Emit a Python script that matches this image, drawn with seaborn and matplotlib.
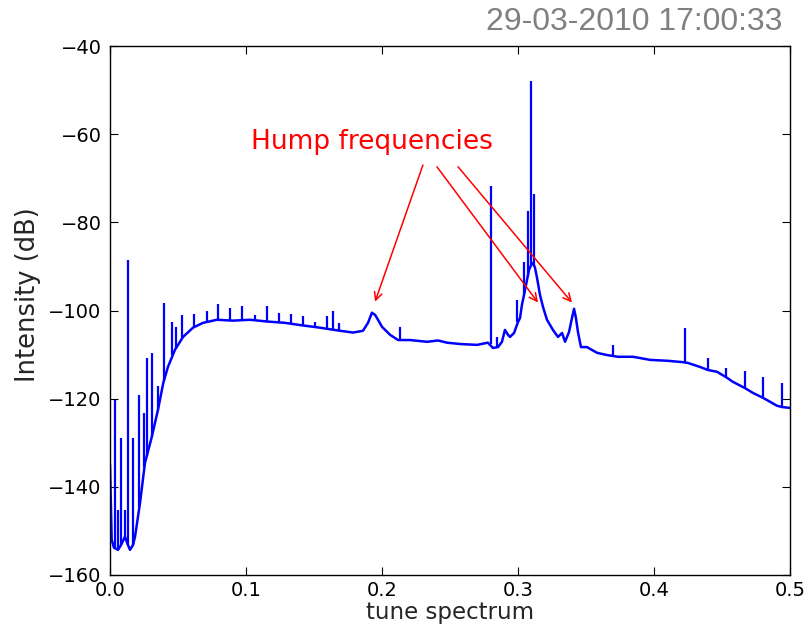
import matplotlib
matplotlib.use("Agg")
import matplotlib.pyplot as plt
import seaborn as sns
import pandas as pd

# ---- data ----
tune = [0.0, 0.00125, 0.0029, 0.0059, 0.0081, 0.011, 0.0132, 0.0147, 0.0169, 0.0184,
        0.0199, 0.0221, 0.0257, 0.0307, 0.0353, 0.0392, 0.0426, 0.0478, 0.0537, 0.061,
        0.0684, 0.0787, 0.0904, 0.103, 0.1154, 0.1287, 0.1397, 0.1544, 0.1691, 0.1787,
        0.186, 0.1897, 0.1926, 0.1949, 0.1963, 0.2, 0.2059, 0.2118, 0.2206, 0.2331,
        0.2412, 0.2478, 0.2574, 0.2699, 0.2779, 0.2816, 0.2853, 0.2882, 0.2904, 0.2926,
        0.2941, 0.2971, 0.3, 0.3015, 0.3029, 0.3044, 0.3066, 0.3081, 0.3096, 0.311,
        0.3125, 0.314, 0.3162, 0.3184, 0.3213, 0.3257, 0.3294, 0.3324, 0.3346, 0.3375,
        0.3397, 0.3412, 0.3426, 0.3441, 0.3463, 0.3507, 0.3581, 0.3654, 0.3735, 0.3846,
        0.3971, 0.4096, 0.4206, 0.425, 0.4338, 0.4397, 0.4463, 0.4529, 0.4581, 0.4669,
        0.4728, 0.4801, 0.4853, 0.4904, 0.4941, 0.5]
intensity = [-135.0, -152.0, -153.8, -154.3, -153.2, -151.3, -153.2, -154.3, -153.2, -151.3,
             -148.2, -143.6, -134.6, -128.7, -122.5, -116.4, -112.8, -108.9, -106.0, -103.9,
             -102.8, -102.1, -102.3, -102.1, -102.5, -102.8, -103.3, -103.9, -104.6, -105.0,
             -104.6, -102.8, -100.5, -101.0, -101.7, -103.7, -105.5, -106.7, -106.7, -107.1,
             -106.8, -107.3, -107.6, -107.8, -107.3, -108.5, -108.3, -107.1, -104.4, -105.5,
             -106.0, -105.1, -102.6, -101.7, -98.7, -96.5, -93.1, -90.8, -89.7, -89.2,
             -90.3, -92.6, -96.5, -99.2, -102.1, -104.4, -106.0, -105.1, -107.1, -104.9,
             -101.7, -99.6, -101.7, -104.9, -108.3, -108.3, -109.6, -110.1, -110.5, -110.5,
             -111.2, -111.4, -111.7, -111.9, -112.8, -113.5, -113.9, -115.1, -116.2, -117.6,
             -118.7, -119.8, -120.7, -121.6, -121.9, -122.1]

spike_tune = [0.0037, 0.0059, 0.0081, 0.011, 0.013, 0.0171, 0.0215, 0.0252, 0.027, 0.0307,
              0.0351, 0.0397, 0.0458, 0.0485, 0.0532, 0.0618, 0.0711, 0.0794, 0.0882, 0.0974,
              0.1066, 0.1152, 0.1243, 0.1329, 0.1417, 0.1507, 0.1596, 0.164, 0.1684, 0.2132,
              0.2799, 0.2846, 0.299, 0.3044, 0.3074, 0.3098, 0.3121, 0.3699, 0.4228, 0.4397,
              0.4529, 0.4669, 0.4801, 0.4941]
spike_base = [-153.8, -154.3, -153.2, -151.3, -153.2, -153.2, -144.5, -135.5, -133.0, -128.7,
              -122.7, -116.0, -110.0, -108.7, -106.2, -103.8, -102.7, -102.1, -102.2, -102.2,
              -102.3, -102.5, -102.7, -103.0, -103.3, -103.8, -104.2, -104.4, -104.6, -106.7,
              -107.5, -108.4, -102.5, -96.5, -92.5, -89.7, -90.0, -110.3, -111.8, -113.5,
              -115.1, -117.6, -119.8, -121.9]
spike_top = [-120.3, -145.2, -128.9, -145.2, -88.5, -128.9, -119.1, -123.2, -110.7, -109.6,
             -117.1, -98.3, -102.6, -103.7, -101.0, -100.8, -100.2, -98.5, -99.4, -99.0,
             -101.0, -99.0, -100.5, -100.8, -101.3, -102.6, -101.3, -100.0, -102.8, -103.7,
             -71.7, -106.0, -97.6, -89.0, -77.4, -47.9, -73.6, -107.8, -104.0, -110.8,
             -113.0, -113.7, -115.1, -116.4]

annot_text = "Hump frequencies"
annot_pos = (0.1926, -61.8)
arrow_starts = [(0.2301, -67.0), (0.2404, -67.4), (0.2559, -67.4)]
arrow_ends = [(0.1949, -98.0), (0.3147, -98.2), (0.3397, -98.2)]

stamp = "29-03-2010 17:00:33"
xticks = [0.0, 0.1, 0.2, 0.3, 0.4, 0.5]
yticks = [-160, -140, -120, -100, -80, -60, -40]

# ---- style ----
sns.set_style("ticks")
plt.rcParams['font.family'] = ['DejaVu Sans']
plt.rcParams['axes.unicode_minus'] = True

fig = plt.figure(figsize=(8.08, 6.26), dpi=100)
ax = fig.add_axes([110 / 808, 1 - 575 / 626, 680 / 808, 529 / 626])

df = pd.DataFrame({"tune": tune, "intensity": intensity})
sns.lineplot(data=df, x="tune", y="intensity", color="#0000ff", linewidth=1.8,
             ax=ax, estimator=None, sort=True)
ax.vlines(spike_tune, spike_base, spike_top, color="#0000ff", linewidth=1.6)

ax.set_xlim(0, 0.5)
ax.set_ylim(-160, -40)
ax.set_xticks(xticks)
ax.set_yticks(yticks)
ax.set_xticklabels([f"{t:.1f}" for t in xticks])
ax.set_yticklabels([f"\u2212{abs(t)}" for t in yticks])
ax.tick_params(direction="in", top=True, right=True, length=6, width=0.8,
               labelsize=14, colors="black", pad=6)
ax.tick_params(axis="x", pad=4)
for s in ax.spines.values():
    s.set_color("black")
    s.set_linewidth(1.0)
    s.set_visible(True)

ax.set_xlabel("tune spectrum", fontsize=16.5, labelpad=1)
ax.set_ylabel("Intensity (dB)", fontsize=18.5, labelpad=5, y=0.53)

ax.text(annot_pos[0], annot_pos[1], annot_text, color="red", fontsize=19,
        ha="center", va="center")
for (sx, sy), (ex, ey) in zip(arrow_starts, arrow_ends):
    ax.annotate("", xy=(ex, ey), xytext=(sx, sy),
                arrowprops=dict(arrowstyle="->", color="red", lw=1.1,
                                mutation_scale=14, shrinkA=0, shrinkB=0))

fig.text(782 / 808, 1 - 22 / 626, stamp, ha="right", va="center",
         color="#808080", fontsize=23, family=["Liberation Sans", "DejaVu Sans"])

fig.savefig("out.png", dpi=100)
